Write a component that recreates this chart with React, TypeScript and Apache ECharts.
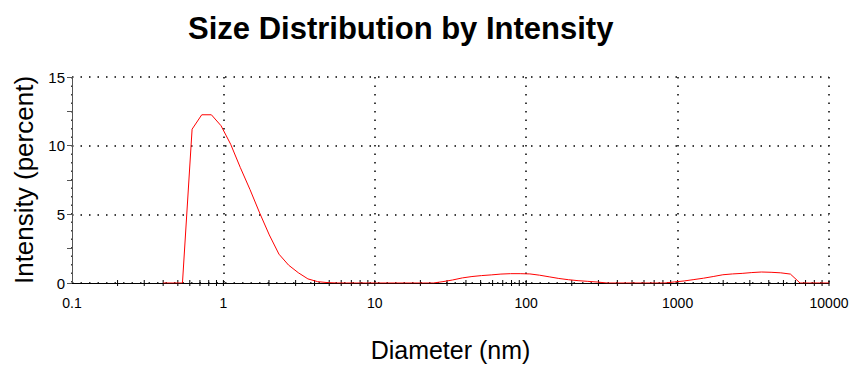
import React, { useEffect, useRef } from 'react';
import * as echarts from 'echarts';

// Size bins (nm)
const diameters = [
  0.4, 0.4632, 0.5365, 0.6213, 0.7195, 0.8332, 0.9649, 1.117, 1.294, 1.499,
  1.736, 2.01, 2.328, 2.696, 3.122, 3.615, 4.187, 4.849, 5.615, 6.503,
  7.531, 8.721, 10.1, 11.7, 13.54, 15.69, 18.17, 21.04, 24.36, 28.21,
  32.67, 37.84, 43.82, 50.75, 58.77, 68.06, 78.82, 91.28, 105.7, 122.4,
  141.8, 164.2, 190.1, 220.2, 255.0, 295.3, 342.0, 396.1, 458.7, 531.2,
  615.1, 712.4, 825.0, 955.4, 1106, 1281, 1484, 1718, 1990, 2305,
  2669, 3091, 3580, 4145, 4801, 5560, 6439, 7456, 8635, 10000,
];

// Intensity (percent)
const intensity = [
  0, 0, 0, 11.2, 12.25, 12.25, 11.45, 10.1, 8.4, 6.8,
  5.1, 3.5, 2.1, 1.3, 0.75, 0.3, 0.1, 0.03, 0, 0,
  0, 0, 0, 0, 0, 0, 0, 0, 0, 0.1,
  0.22, 0.37, 0.47, 0.54, 0.59, 0.65, 0.68, 0.68, 0.66, 0.57,
  0.45, 0.33, 0.24, 0.17, 0.12, 0.07, 0, 0, 0, 0,
  0, 0, 0, 0.08, 0.15, 0.25, 0.35, 0.47, 0.6, 0.66,
  0.7, 0.76, 0.8, 0.78, 0.74, 0.65, 0, 0, 0, 0,
];

const xTickLabels = ['0.1', '1', '10', '100', '1000', '10000'];
const yTickLabels = ['0', '5', '10', '15'];

// Tick marks on the x axis (log decades and their sub-divisions)
const xTickMarks = [
  0.2, 0.3, 0.4, 0.5, 0.6, 0.7, 0.8, 0.9, 1,
  2, 3, 4, 5, 6, 7, 8, 9, 10,
  20, 30, 40, 50, 60, 70, 80, 90, 100,
  200, 300, 400, 500, 600, 700, 800, 900, 1000,
  2000, 3000, 4000, 5000, 6000, 7000, 8000, 9000, 10000,
];

const FONT = "'Liberation Sans', Arial, sans-serif";

export default function App() {
  const ref = useRef<HTMLDivElement>(null);

  useEffect(() => {
    const chart = echarts.init(ref.current as HTMLDivElement, null, { renderer: 'svg' });
    const dotted = { color: '#000', width: 1.5, type: [1.5, 7] as number[] };
    chart.setOption({
      animation: false,
      backgroundColor: '#fff',
      title: {
        text: 'Size Distribution by Intensity',
        left: 183,
        top: 8,
        textStyle: { fontFamily: FONT, fontWeight: 'bold', fontSize: 31, color: '#000' },
      },
      grid: { left: 72, right: 28, top: 77, bottom: 90, containLabel: false },
      xAxis: {
        type: 'log',
        logBase: 10,
        min: 0.1,
        max: 10000,
        name: 'Diameter (nm)',
        nameLocation: 'middle',
        nameGap: 54,
        nameTextStyle: { fontFamily: FONT, fontSize: 25, color: '#000' },
        axisLine: { show: true, onZero: false, lineStyle: { color: '#000', width: 1 } },
        axisTick: { show: false },
        axisLabel: {
          fontFamily: FONT,
          fontSize: 14,
          color: '#000',
          margin: 13,
          showMinLabel: true,
          showMaxLabel: true,
          formatter: (v: number) => xTickLabels[Math.round(Math.log10(v)) + 1] ?? '',
        },
        splitLine: { show: true, lineStyle: dotted },
        minorTick: { show: false },
      },
      yAxis: {
        type: 'value',
        min: 0,
        max: 15,
        interval: 5,
        name: 'Intensity (percent)',
        nameLocation: 'middle',
        nameRotate: 90,
        nameGap: 35,
        nameTextStyle: { fontFamily: FONT, fontSize: 26, color: '#000' },
        axisLine: { show: true, lineStyle: { color: '#555', width: 1 } },
        axisTick: { show: true, length: 5, lineStyle: { color: '#555' } },
        minorTick: { show: true, splitNumber: 2, length: 5, lineStyle: { color: '#555' } },
        axisLabel: {
          fontFamily: FONT,
          fontSize: 15,
          color: '#000',
          margin: 7,
          formatter: (v: number) => yTickLabels[Math.round(v / 5)] ?? '',
        },
        splitLine: { show: true, lineStyle: dotted },
      },
      series: [
        {
          type: 'line',
          data: diameters.map((d, i) => [d, intensity[i]]),
          showSymbol: false,
          symbol: 'none',
          smooth: false,
          lineStyle: { color: '#ff0000', width: 1 },
          z: 3,
        },
        {
          type: 'custom',
          data: xTickMarks.map((v) => [v, 0]),
          silent: true,
          clip: false,
          z: 2,
          renderItem: (params: any, api: any) => {
            const p = api.coord([api.value(0), 0]);
            return {
              type: 'line',
              shape: { x1: p[0], y1: p[1] - 3, x2: p[0], y2: p[1] + 3 },
              style: { stroke: '#000', lineWidth: 1 },
            };
          },
        },
      ],
    });
    return () => chart.dispose();
  }, []);

  return (
    <div
      ref={ref}
      style={{ position: 'absolute', left: 0, top: 0, width: 857, height: 373, background: '#fff' }}
    />
  );
}
